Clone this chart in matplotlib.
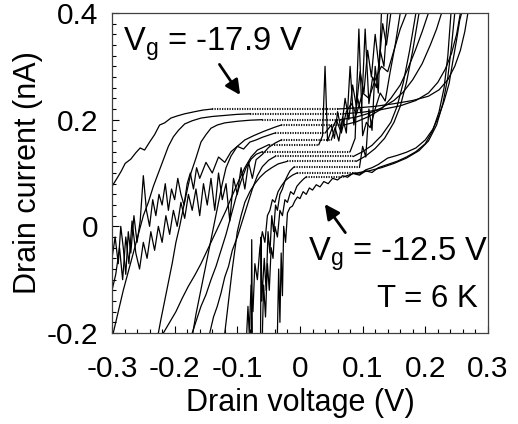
import matplotlib
matplotlib.use("Agg")
import matplotlib.pyplot as plt
import numpy as np

plt.rcParams['font.family'] = ['Liberation Sans', 'DejaVu Sans']
plt.rcParams['mathtext.fontset'] = 'custom'
plt.rcParams['mathtext.rm'] = 'Liberation Sans'
plt.rcParams['axes.unicode_minus'] = False

# drain voltage (V) / drain current (nA), one pair per gate voltage
v1 = [-0.300, -0.292, -0.285, -0.279, -0.270, -0.262, -0.255, -0.248, -0.240, -0.232, -0.224, -0.216,
      -0.206, -0.196, -0.184, -0.168, -0.155, -0.14,
      0.06, 0.09, 0.12, 0.15, 0.18, 0.205, 0.222, 0.236, 0.247, 0.256, 0.263, 0.268]
i1 = [0.075, 0.090, 0.104, 0.118, 0.126, 0.138, 0.147, 0.143, 0.158, 0.172, 0.190, 0.194,
      0.203, 0.207, 0.211, 0.215, 0.218, 0.220,
      0.220, 0.222, 0.225, 0.230, 0.236, 0.244, 0.256, 0.275, 0.300, 0.330, 0.365, 0.400]

v2 = [-0.298, -0.290, -0.282, -0.274, -0.266, -0.258, -0.250, -0.242, -0.234, -0.226, -0.218, -0.210,
      -0.202, -0.194, -0.184, -0.172, -0.158, -0.140, -0.120, -0.100, -0.08,
      0.07, 0.10, 0.13, 0.16, 0.185, 0.205, 0.220, 0.232, 0.242, 0.250, 0.256]
i2 = [-0.200, -0.160, -0.120, -0.085, -0.050, -0.015, 0.020, 0.045, 0.075, 0.100, 0.125, 0.150,
      0.168, 0.180, 0.192, 0.198, 0.203, 0.206, 0.208, 0.210, 0.211,
      0.211, 0.214, 0.219, 0.226, 0.236, 0.250, 0.270, 0.295, 0.325, 0.360, 0.400]

v3 = [-0.226, -0.222, -0.216, -0.210, -0.204, -0.198, -0.192, -0.186, -0.180, -0.174, -0.166, -0.158,
      -0.150, -0.142, -0.132, -0.120, -0.100, -0.080, -0.06,
      0.065, 0.09, 0.11, 0.13, 0.15, 0.165, 0.18, 0.195, 0.208, 0.218, 0.226]
i3 = [-0.200, -0.175, -0.140, -0.105, -0.070, -0.030, 0.000, 0.035, 0.068, 0.100, 0.128, 0.158,
      0.172, 0.184, 0.190, 0.194, 0.197, 0.199, 0.200,
      0.200, 0.205, 0.212, 0.222, 0.236, 0.252, 0.275, 0.305, 0.340, 0.370, 0.400]

v4 = [-0.171, -0.166, -0.160, -0.154, -0.148, -0.142, -0.136, -0.130, -0.124, -0.118, -0.110, -0.100,
      -0.088, -0.074, -0.058, -0.04, -0.03,
      0.07, 0.09, 0.11, 0.13, 0.145, 0.16, 0.172, 0.184, 0.195, 0.205]
i4 = [-0.200, -0.165, -0.130, -0.095, -0.060, -0.025, 0.010, 0.045, 0.080, 0.110, 0.132, 0.150,
      0.162, 0.170, 0.178, 0.186, 0.190,
      0.190, 0.196, 0.206, 0.220, 0.240, 0.265, 0.295, 0.330, 0.365, 0.400]

v5 = [-0.300, -0.295, -0.290, -0.286, -0.282, -0.278, -0.274, -0.270, -0.265, -0.260, -0.255, -0.250,
      -0.245, -0.240, -0.235, -0.230, -0.225, -0.220, -0.215, -0.210, -0.205, -0.200, -0.195, -0.190,
      -0.185, -0.180, -0.175, -0.170, -0.165, -0.160, -0.150, -0.140, -0.130, -0.120, -0.110, -0.100,
      -0.090, -0.080, -0.070, -0.060, -0.050, -0.04,
      0.04, 0.05, 0.055, 0.06, 0.066, 0.072, 0.078, 0.084, 0.09, 0.096, 0.102, 0.108, 0.114, 0.12,
      0.126, 0.132, 0.138, 0.145]
i5 = [-0.060, -0.020, -0.070, 0.000, -0.040, -0.090, -0.010, -0.050, 0.020, -0.030, 0.010, 0.095,
      0.030, 0.000, 0.050, 0.020, 0.060, 0.040, 0.080, 0.030, 0.070, 0.050, 0.090, 0.060,
      0.040, 0.080, 0.100, 0.070, 0.110, 0.090, 0.120, 0.100, 0.130, 0.120, 0.140, 0.150,
      0.145, 0.158, 0.162, 0.167, 0.171, 0.175,
      0.175, 0.190, 0.165, 0.215, 0.180, 0.240, 0.200, 0.265, 0.225, 0.290, 0.250, 0.330, 0.280, 0.360,
      0.300, 0.380, 0.340, 0.400]

v6 = [-0.300, -0.294, -0.288, -0.283, -0.278, -0.273, -0.268, -0.262, -0.256, -0.250, -0.244, -0.238,
      -0.232, -0.226, -0.220, -0.214, -0.208, -0.202, -0.196, -0.190, -0.184, -0.178, -0.172, -0.166,
      -0.160, -0.154, -0.148, -0.142, -0.136, -0.130, -0.124, -0.118, -0.112, -0.106, -0.100, -0.094,
      -0.088, -0.082, -0.076, -0.070, -0.060, -0.050, -0.040, -0.03,
      0.05, 0.056, 0.062, 0.068, 0.074, 0.080, 0.086, 0.092, 0.098, 0.104, 0.110, 0.116, 0.122, 0.128,
      0.134, 0.14]
i6 = [-0.120, -0.090, -0.040, -0.100, -0.020, -0.070, 0.010, -0.050, -0.080, -0.030, -0.060, -0.010,
      -0.045, 0.000, -0.030, 0.020, -0.015, 0.030, 0.000, 0.045, 0.015, 0.060, 0.030, 0.070,
      0.020, 0.080, 0.040, 0.090, 0.030, 0.100, 0.050, 0.080, 0.010, 0.090, 0.060, 0.110,
      0.070, 0.120, 0.090, 0.125, 0.135, 0.148, 0.156, 0.162,
      0.162, 0.185, 0.160, 0.205, 0.175, 0.300, 0.190, 0.240, 0.210, 0.370, 0.230, 0.280, 0.260, 0.330,
      0.300, 0.400]

v7 = [-0.218, -0.208, -0.198, -0.188, -0.178, -0.168, -0.158, -0.148, -0.138, -0.128, -0.118, -0.108,
      -0.098, -0.088, -0.078, -0.068, -0.05,
      0.03, 0.036, 0.040, 0.044, 0.05, 0.058, 0.066, 0.074, 0.082, 0.09, 0.10, 0.11, 0.12, 0.13,
      0.14, 0.15, 0.16, 0.17]
i7 = [-0.200, -0.180, -0.160, -0.135, -0.112, -0.092, -0.070, -0.045, -0.020, 0.005, 0.030, 0.058,
      0.085, 0.110, 0.130, 0.143, 0.153,
      0.153, 0.170, 0.300, 0.160, 0.180, 0.200, 0.175, 0.215, 0.230, 0.210, 0.250, 0.240, 0.275, 0.300,
      0.290, 0.330, 0.370, 0.400]

v8 = [-0.172, -0.165, -0.158, -0.150, -0.142, -0.134, -0.126, -0.118, -0.110, -0.102, -0.094, -0.086,
      -0.078, -0.070, -0.06,
      0.08, 0.088, 0.094, 0.100, 0.106, 0.112, 0.120, 0.128, 0.136, 0.144, 0.152, 0.16]
i8 = [-0.200, -0.175, -0.150, -0.128, -0.100, -0.075, -0.045, -0.015, 0.020, 0.055, 0.085, 0.110,
      0.126, 0.135, 0.140,
      0.140, 0.165, 0.370, 0.170, 0.195, 0.185, 0.220, 0.250, 0.235, 0.290, 0.340, 0.400]

v9 = [-0.144, -0.138, -0.132, -0.126, -0.120, -0.114, -0.108, -0.100, -0.092, -0.084, -0.076, -0.068,
      -0.060, -0.050, -0.04,
      0.085, 0.10, 0.115, 0.13, 0.145, 0.155, 0.165, 0.175, 0.185]
i9 = [-0.200, -0.170, -0.150, -0.125, -0.095, -0.075, -0.045, -0.020, 0.010, 0.040, 0.070, 0.095,
      0.112, 0.124, 0.131,
      0.131, 0.140, 0.152, 0.170, 0.195, 0.225, 0.270, 0.330, 0.400]

v10 = [-0.120, -0.116, -0.112, -0.108, -0.104, -0.100, -0.094, -0.088, -0.080, -0.072, -0.064, -0.055,
       -0.045, -0.035, -0.02,
       0.09, 0.105, 0.12, 0.135, 0.15, 0.16, 0.17, 0.18, 0.19]
i10 = [-0.200, -0.160, -0.120, -0.080, -0.045, -0.010, 0.020, 0.045, 0.065, 0.080, 0.092, 0.102,
       0.110, 0.117, 0.122,
       0.122, 0.132, 0.146, 0.165, 0.195, 0.225, 0.270, 0.330, 0.400]

v11 = [-0.078, -0.077, -0.076, -0.070, -0.063, -0.062, -0.061, -0.057, -0.054, -0.051, -0.048, -0.045,
       -0.042, -0.039, -0.036, -0.032, -0.028, -0.024, -0.020, -0.016, -0.010,
       0.095, 0.10, 0.105, 0.11, 0.115, 0.12, 0.125, 0.13]
i11 = [-0.220, -0.025, -0.220, -0.220, -0.220, -0.020, -0.140, -0.060, -0.120, -0.010, -0.050, 0.020,
       -0.010, 0.040, 0.030, 0.060, 0.070, 0.085, 0.095, 0.104, 0.111,
       0.111, 0.150, 0.130, 0.220, 0.180, 0.300, 0.250, 0.400]

v12 = [-0.085, -0.083, -0.081, -0.078, -0.075, -0.072, -0.068, -0.064, -0.060, -0.056, -0.052, -0.048,
       -0.044, -0.040, -0.035, -0.030, -0.024, -0.018, -0.012, -0.005,
       0.09, 0.11, 0.13, 0.15, 0.17, 0.19, 0.205, 0.218, 0.228, 0.236, 0.242, 0.247]
i12 = [-0.200, -0.150, -0.200, -0.110, -0.160, -0.070, -0.100, -0.040, -0.010, -0.030, 0.020, 0.030,
       0.050, 0.045, 0.065, 0.075, 0.085, 0.091, 0.096, 0.100,
       0.100, 0.104, 0.110, 0.118, 0.128, 0.142, 0.160, 0.190, 0.230, 0.280, 0.340, 0.400]

v13 = [-0.036, -0.034, -0.032, -0.030, -0.028, -0.026, -0.023, -0.020, -0.016, -0.012, -0.008, -0.004,
       0.000, 0.005, 0.010, 0.015, 0.020, 0.026, 0.032, 0.038, 0.045, 0.052, 0.060, 0.068, 0.076,
       0.085, 0.095, 0.105, 0.115, 0.125, 0.140, 0.155, 0.170, 0.185, 0.200, 0.212, 0.222, 0.230,
       0.238, 0.244, 0.250, 0.255, 0.258]
i13 = [-0.200, -0.080, -0.180, -0.050, -0.130, 0.000, -0.030, 0.025, 0.035, 0.038, 0.048, 0.055,
       0.052, 0.065, 0.060, 0.072, 0.068, 0.078, 0.074, 0.084, 0.080, 0.090, 0.087, 0.095, 0.092,
       0.100, 0.098, 0.106, 0.110, 0.116, 0.128, 0.133, 0.139, 0.147, 0.162, 0.182, 0.208, 0.235,
       0.268, 0.310, 0.350, 0.387, 0.400]

v14 = [-0.060, -0.058, -0.055, -0.052, -0.049, -0.046, -0.043, -0.040, -0.036, -0.032, -0.028, -0.024,
       -0.020, -0.015, -0.010, -0.005, 0.0, 0.005, 0.01,
       0.07, 0.085, 0.095, 0.105, 0.115, 0.125, 0.14, 0.155, 0.17, 0.185, 0.20, 0.212, 0.222, 0.230,
       0.236, 0.241]
i14 = [-0.200, -0.110, -0.170, -0.070, -0.120, -0.040, -0.060, 0.000, -0.020, 0.030, 0.020, 0.050,
       0.045, 0.065, 0.060, 0.075, 0.082, 0.088, 0.093,
       0.093, 0.099, 0.096, 0.104, 0.101, 0.110, 0.116, 0.122, 0.130, 0.140, 0.155, 0.180, 0.215, 0.260,
       0.320, 0.400]

curves = [(v1, i1), (v2, i2), (v3, i3), (v4, i4), (v5, i5), (v6, i6), (v7, i7),
          (v8, i8), (v9, i9), (v10, i10), (v11, i11), (v12, i12), (v13, i13), (v14, i14)]

# flat (blockade) part of each curve: current level and voltage range
plateau_i = [0.220, 0.211, 0.200, 0.190, 0.175, 0.162, 0.153, 0.140, 0.131, 0.122, 0.111, 0.100, None, 0.093]
plateau_v0 = [-0.14, -0.08, -0.06, -0.03, -0.04, -0.03, -0.05, -0.06, -0.04, -0.02, -0.010, -0.005, None, 0.01]
plateau_v1 = [0.06, 0.07, 0.065, 0.07, 0.04, 0.05, 0.03, 0.08, 0.085, 0.09, 0.095, 0.09, None, 0.07]

x_ticks = [-0.3, -0.2, -0.1, 0, 0.1, 0.2, 0.3]
x_labels = ['-0.3', '-0.2', '-0.1', '0', '0.1', '0.2', '0.3']
y_ticks = [-0.2, 0, 0.2, 0.4]
y_labels = ['-0.2', '0', '0.2', '0.4']

fig = plt.figure(figsize=(5.18, 4.24), dpi=100)
ax = fig.add_axes([0.2162, 0.2146, 0.7258, 0.7547])

for (v, cur), p, a, b in zip(curves, plateau_i, plateau_v0, plateau_v1):
    v = np.array(v)
    cur = np.array(cur)
    if p is None:
        ax.plot(v, cur, color='black', lw=0.9)
        continue
    left = v <= a
    right = v >= b
    ax.plot(v[left], cur[left], color='black', lw=0.9)
    ax.plot([a, b], [p, p], color='0.1', lw=1.5, ls=(0, (0.6, 0.6)))
    ax.plot(v[right], cur[right], color='black', lw=0.9)

ax.set_xlim(-0.3, 0.3)
ax.set_ylim(-0.2, 0.4)
ax.set_xticks(x_ticks)
ax.set_xticklabels(x_labels)
ax.set_yticks(y_ticks)
ax.set_yticklabels(y_labels)
ax.set_xticks(np.arange(-0.3, 0.301, 0.02), minor=True)
ax.set_yticks(np.arange(-0.2, 0.401, 0.02), minor=True)
ax.tick_params(which='both', direction='in', top=False, right=False, labelsize=21.5)
ax.tick_params(axis='x', pad=16)
ax.tick_params(axis='y', pad=10)
ax.tick_params(which='major', length=5, width=0.8)
ax.tick_params(which='minor', length=3, width=0.8)
for s in ax.spines.values():
    s.set_linewidth(0.9)
    s.set_color('0.25')

ax.set_xlabel("Drain voltage (V)", fontsize=22, labelpad=3.5)
ax.set_ylabel("Drain current (nA)", fontsize=22, labelpad=2.5)

ax.text(-0.283, 0.331, "V$_\\mathrm{g}$ = -17.9 V", fontsize=23.5, ha='left', va='baseline')
ax.annotate("", xy=(-0.093, 0.242), xytext=(-0.131, 0.308),
            arrowprops=dict(arrowstyle='-|>', color='black', lw=2, mutation_scale=22))
ax.text(0.013, -0.063, "V$_\\mathrm{g}$ = -12.5 V", fontsize=23.5, ha='left', va='baseline')
ax.annotate("", xy=(0.037, 0.046), xytext=(0.075, -0.016),
            arrowprops=dict(arrowstyle='-|>', color='black', lw=2, mutation_scale=22))
ax.text(0.123, -0.151, "T = 6 K", fontsize=22.5, ha='left', va='baseline')

fig.savefig("out.png", dpi=100)
